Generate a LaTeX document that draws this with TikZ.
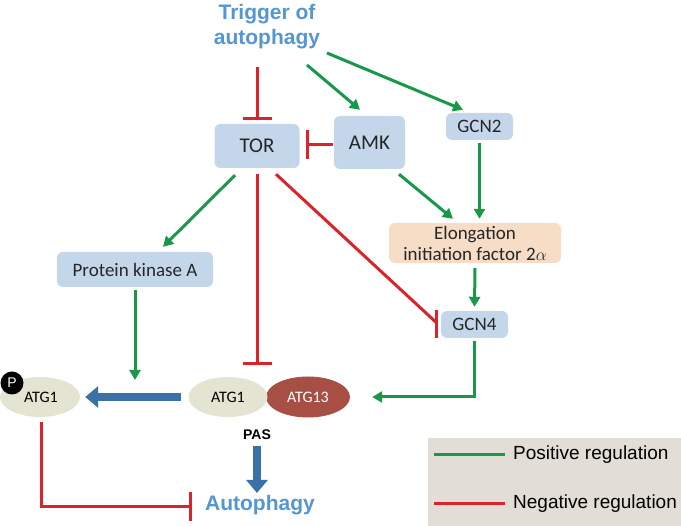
\documentclass[tikz,border=0pt]{standalone}
\usepackage{fontspec}
\setmainfont{Liberation Sans}
\newfontfamily\calfont{Carlito}
\usetikzlibrary{arrows.meta,shapes.geometric,calc}
\definecolor{posgreen}{RGB}{24,152,72}
\definecolor{negred}{RGB}{218,36,42}
\definecolor{txtblue}{RGB}{84,150,210}
\definecolor{arrblue}{RGB}{58,114,168}
\definecolor{boxblue}{RGB}{196,215,234}
\definecolor{boxpeach}{RGB}{247,220,198}
\definecolor{atgbeige}{RGB}{227,228,210}
\definecolor{atgred}{RGB}{168,79,69}
\definecolor{legbg}{RGB}{226,222,214}
\tikzset{
  box/.style={draw=none,fill=boxblue,rounded corners=6pt,inner sep=0pt,font=\calfont\fontsize{19}{22}\selectfont,text=black!85},
  bigbox/.style={box,font=\calfont\fontsize{21}{24}\selectfont},
  oval/.style={ellipse,inner sep=0pt,font=\calfont\fontsize{16}{18}\selectfont},
  posarrow/.style={draw=posgreen,line width=3pt,-{Triangle[length=10pt,width=11pt]}},
  negarrow/.style={draw=negred,line width=3pt,-{Bar[width=29pt,line width=3pt]}},
  negline/.style={draw=negred,line width=3pt},
  bluearrow/.style={draw=arrblue,line width=8pt,-{Triangle[length=13pt,width=21pt]}},
  bigtxt/.style={text=txtblue,font=\bfseries\fontsize{21}{25}\selectfont,align=center,inner sep=0pt}
}
\begin{document}
\begin{tikzpicture}[x=1pt,y=-1pt]
\useasboundingbox (0,0) rectangle (681,526);
% nodes
\node[bigtxt] (trig) at (267,27) {Trigger of\\autophagy};
\node[bigbox,minimum width=85pt,minimum height=44pt] (tor) at (257,146) {TOR};
\node[bigbox,minimum width=71pt,minimum height=53pt] (amk) at (369.5,142.5) {AMK};
\node[box,minimum width=67pt,minimum height=27pt] (gcn2) at (479.5,126.5) {GCN2};
\node[box,fill=boxpeach,minimum width=172pt,minimum height=40pt,align=center,font=\calfont\fontsize{19}{21}\selectfont] (elong) at (475,243) {Elongation\\initiation factor 2$\alpha$};
\node[box,minimum width=67pt,minimum height=27pt] (gcn4) at (474.5,324.5) {GCN4};
\node[box,minimum width=156pt,minimum height=35pt] (pka) at (135,269.5) {Protein kinase A};
\node[oval,fill=atgred,text=white,minimum width=84pt,minimum height=41pt] (atg13) at (308,397) {ATG13};
\node[oval,fill=atgbeige,minimum width=79pt,minimum height=40pt] (atg1) at (228,397) {ATG1};
\node[oval,fill=atgbeige,minimum width=80pt,minimum height=40pt] (atg1p) at (40,397) {\hspace*{2pt}ATG1};
\node[circle,fill=black,text=white,minimum size=23pt,inner sep=0pt,font=\fontsize{14}{16}\selectfont] (pcirc) at (12,383) {P};
\node[font=\bfseries\fontsize{14}{16}\selectfont,inner sep=0pt] (pas) at (257,435) {PAS};
\node[bigtxt] (auto) at (260,505) {Autophagy};
\coordinate (phos) at (136,397);
% connectors
\draw[negarrow] ([shift={(0,-57)}]tor.north) -- ([shift={(0,-4)}]tor.north);
\draw[posarrow] ([shift={(40,38)}]trig.center) -- ([shift={(-9.5,-6)}]amk.north);
\draw[posarrow] ([shift={(60,26)}]trig.center) -- ([shift={(-16.5,-3)}]gcn2.north);
\draw[negarrow] ([shift={(-1,2.5)}]amk.west) -- ([shift={(6.5,-1)}]tor.east);
\draw[posarrow] ([shift={(29.5,5)}]amk.south) -- ([shift={(-22,-4)}]elong.north);
\draw[posarrow] ([shift={(0,3)}]gcn2.south) -- ([shift={(0,-4)}]gcn2.south |- elong.north);
\draw[posarrow] ([shift={(0,5)}]elong.south) -- ([shift={(0,-4)}]gcn4.north);
\draw[posarrow] ([shift={(-22,7)}]tor.south) -- ([shift={(28,-5)}]pka.north);
\draw[negline] ([shift={(19,6)}]tor.south) -- ([shift={(-4,-1.5)}]gcn4.west);
\draw[negline] ([shift={(-4,-14)}]gcn4.west) -- ([shift={(-4,13.5)}]gcn4.west);
\draw[negarrow] ([shift={(0,6)}]tor.south) -- ([shift={(0,-12)}]tor.south |- atg1.north);
\draw[posarrow] ([shift={(0,3)}]pka.south) -- ([shift={(0,-17)}]pka.south |- phos);
\draw[posarrow] ([shift={(0,3)}]gcn4.south) |- ([shift={(22,0)}]atg13.east);
\draw[negarrow] ([shift={(1,5)}]atg1p.south) |- ([shift={(-13,2)}]auto.west);
\draw[bluearrow] ([shift={(-7,0)}]atg1.west) -- ([shift={(5,0)}]atg1p.east);
\draw[bluearrow] ([shift={(0,11)}]pas.center) -- ([shift={(0,-2)}]pas.south |- auto.north);
% legend
\fill[legbg] (428,438) rectangle (681,526);
\coordinate (lg1a) at (434,455);
\coordinate (lg1b) at (505,455);
\coordinate (lg2a) at (434,504);
\coordinate (lg2b) at (505,504);
\draw[draw=posgreen,line width=3pt] (lg1a) -- (lg1b);
\draw[draw=negred,line width=3pt] (lg2a) -- (lg2b);
\node[anchor=west,inner sep=0pt,font=\fontsize{19}{22}\selectfont] (lpos) at (513,455) {Positive regulation};
\node[anchor=west,inner sep=0pt,font=\fontsize{19}{22}\selectfont] (lneg) at (513,504) {Negative regulation};
\end{tikzpicture}
\end{document}
